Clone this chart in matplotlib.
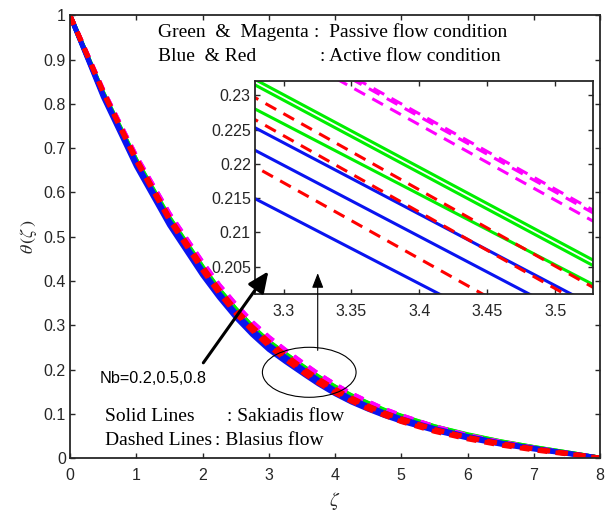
import matplotlib
matplotlib.use('Agg')
import matplotlib.pyplot as plt
from matplotlib.patches import Ellipse, FancyArrowPatch

plt.rcParams['font.family'] = ['Liberation Sans', 'DejaVu Sans']
plt.rcParams['mathtext.fontset'] = 'stix'

# similarity variable
zeta = [0, 0.5, 1, 1.5, 2, 2.25, 2.5, 2.75, 3, 3.25, 3.55, 3.75, 4, 4.25, 4.5, 4.75, 5, 5.5, 6, 6.5, 7, 7.5, 8]

# Sakiadis flow, active condition (blue), Nb = 0.2, 0.5, 0.8
blue_nb02 = [1.000, 0.816, 0.659, 0.526, 0.413, 0.363, 0.318, 0.279, 0.245, 0.2179, 0.1871, 0.1672, 0.145, 0.126, 0.110, 0.0955, 0.083, 0.062, 0.045, 0.031, 0.020, 0.010, 0.000]
blue_nb05 = [1.000, 0.820, 0.665, 0.533, 0.420, 0.370, 0.325, 0.286, 0.252, 0.2250, 0.1938, 0.1736, 0.151, 0.131, 0.114, 0.099, 0.086, 0.065, 0.048, 0.034, 0.022, 0.011, 0.000]
blue_nb08 = [1.000, 0.822, 0.668, 0.536, 0.424, 0.373, 0.328, 0.290, 0.256, 0.2283, 0.1970, 0.1763, 0.153, 0.134, 0.117, 0.102, 0.089, 0.067, 0.049, 0.034, 0.022, 0.011, 0.000]

# Blasius flow, active condition (red)
red_nb02 = [1.000, 0.826, 0.671, 0.537, 0.424, 0.372, 0.327, 0.288, 0.253, 0.2228, 0.1895, 0.1694, 0.147, 0.128, 0.111, 0.096, 0.082, 0.060, 0.043, 0.029, 0.018, 0.009, 0.000]
red_nb05 = [1.000, 0.828, 0.675, 0.542, 0.430, 0.378, 0.333, 0.294, 0.260, 0.2297, 0.1962, 0.1758, 0.153, 0.133, 0.116, 0.101, 0.087, 0.064, 0.046, 0.032, 0.020, 0.010, 0.000]
red_nb08 = [1.000, 0.829, 0.677, 0.544, 0.433, 0.381, 0.336, 0.297, 0.263, 0.2329, 0.1995, 0.1790, 0.156, 0.136, 0.118, 0.102, 0.089, 0.065, 0.047, 0.033, 0.021, 0.011, 0.000]

# Sakiadis flow, passive condition (green)
green_nb02 = [1.000, 0.822, 0.669, 0.538, 0.427, 0.376, 0.332, 0.292, 0.258, 0.2310, 0.2001, 0.1798, 0.157, 0.138, 0.121, 0.105, 0.092, 0.069, 0.051, 0.036, 0.023, 0.012, 0.000]
green_nb05 = [1.000, 0.824, 0.672, 0.542, 0.431, 0.380, 0.336, 0.296, 0.262, 0.2346, 0.2028, 0.1826, 0.160, 0.140, 0.123, 0.107, 0.094, 0.071, 0.052, 0.037, 0.024, 0.012, 0.000]
green_nb08 = [1.000, 0.825, 0.673, 0.543, 0.432, 0.381, 0.337, 0.297, 0.263, 0.2354, 0.2036, 0.1835, 0.161, 0.141, 0.124, 0.108, 0.095, 0.071, 0.053, 0.037, 0.024, 0.012, 0.000]

# Blasius flow, passive condition (magenta)
mag_nb02 = [1.000, 0.830, 0.680, 0.550, 0.440, 0.389, 0.345, 0.305, 0.271, 0.2422, 0.2092, 0.1884, 0.165, 0.144, 0.126, 0.109, 0.095, 0.070, 0.050, 0.035, 0.022, 0.011, 0.000]
mag_nb05 = [1.000, 0.831, 0.681, 0.552, 0.442, 0.391, 0.347, 0.307, 0.273, 0.2434, 0.2104, 0.1895, 0.166, 0.145, 0.127, 0.110, 0.096, 0.071, 0.051, 0.035, 0.022, 0.011, 0.000]
mag_nb08 = [1.000, 0.831, 0.682, 0.552, 0.442, 0.391, 0.347, 0.307, 0.273, 0.2438, 0.2108, 0.1897, 0.166, 0.145, 0.127, 0.110, 0.096, 0.071, 0.051, 0.036, 0.023, 0.011, 0.000]

GREEN = '#00ee00'
MAGENTA = '#ff00ff'
BLUE = '#0a14f0'
RED = '#ff0000'
AXC = '#262626'

curves = [
    (green_nb02, GREEN, '-'), (green_nb05, GREEN, '-'), (green_nb08, GREEN, '-'),
    (mag_nb02, MAGENTA, '--'), (mag_nb05, MAGENTA, '--'), (mag_nb08, MAGENTA, '--'),
    (blue_nb02, BLUE, '-'), (blue_nb05, BLUE, '-'), (blue_nb08, BLUE, '-'),
    (red_nb02, RED, '--'), (red_nb05, RED, '--'), (red_nb08, RED, '--'),
]


def draw_curves(axis, lw, dash):
    for y, c, ls in curves:
        if ls == '--':
            axis.plot(zeta, y, color=c, lw=lw, dashes=dash)
        else:
            axis.plot(zeta, y, color=c, lw=lw)


def style_axes(axis, xpad, ypad):
    axis.tick_params(direction='in', top=True, right=True, length=3.5, width=1.0,
                     colors=AXC, labelsize=11.5, labelcolor=AXC)
    axis.tick_params(axis='x', pad=xpad)
    axis.tick_params(axis='y', pad=ypad)
    for s in axis.spines.values():
        s.set_linewidth(1.3)
        s.set_color(AXC)


fig = plt.figure(figsize=(6.13, 5.13), dpi=100)
ax = fig.add_axes([0.1142, 0.1072, 0.8646, 0.8626])
draw_curves(ax, 3.4, (2.1, 1.7))
ax.set_xlim(0, 8)
ax.set_ylim(0, 1)
ax.set_xticks(range(0, 9))
ax.set_yticks([i / 10 for i in range(11)])
ax.set_yticklabels(['0', '0.1', '0.2', '0.3', '0.4', '0.5', '0.6', '0.7', '0.8', '0.9', '1'])
style_axes(ax, 7, 3)
ax.set_xlabel(r'$\zeta$', fontsize=14, color=AXC, labelpad=5)
ax.set_ylabel(r'$\theta\,(\zeta\,)$', fontsize=13, color=AXC, labelpad=3)

serif = dict(family=['Liberation Serif', 'DejaVu Serif'], fontsize=14, color='black', va='baseline')
ax.text(1.328, 0.952, 'Green  &  Magenta', **serif)
ax.text(3.683, 0.952, ':  Passive flow condition', **serif)
ax.text(1.328, 0.897, 'Blue  & Red', **serif)
ax.text(3.774, 0.897, ': Active flow condition', **serif)
ax.text(0.528, 0.0843, 'Solid Lines', **serif)
ax.text(2.365, 0.0843, ': Sakiadis flow', **serif)
ax.text(0.528, 0.0294, 'Dashed Lines', **serif)
ax.text(2.189, 0.0294, ': Blasius flow', **serif)
ax.text(0.453, 0.169, 'Nb=0.2,0.5,0.8', fontsize=11.7, color='black', va='baseline')

ax.add_patch(Ellipse((3.611, 0.1937), 1.414, 0.113, fill=False, ec='black', lw=0.8, zorder=5))

# zoomed view
axin = fig.add_axes([0.416, 0.4269, 0.5519, 0.4152])
draw_curves(axin, 2.2, (4.0, 2.7))
axin.set_xlim(3.279, 3.528)
axin.set_ylim(0.201, 0.2321)
axin.set_xticks([3.3, 3.35, 3.4, 3.45, 3.5])
axin.set_xticklabels(['3.3', '3.35', '3.4', '3.45', '3.5'])
axin.set_yticks([0.205, 0.21, 0.215, 0.22, 0.225, 0.23])
axin.set_yticklabels(['0.205', '0.21', '0.215', '0.22', '0.225', '0.23'])
style_axes(axin, 7, 3)

# arrows on top of both axes
fig.add_artist(FancyArrowPatch((1.988, 0.210), (3.019, 0.427), transform=ax.transData,
                               arrowstyle='-|>,head_length=0.9,head_width=0.4',
                               mutation_scale=14, lw=2.2, color='black', zorder=10))
fig.add_artist(FancyArrowPatch((3.739, 0.237), (3.739, 0.424), transform=ax.transData,
                               arrowstyle='-|>,head_length=0.9,head_width=0.35',
                               mutation_scale=10, lw=0.8, color='black', zorder=10))

fig.savefig('out.png', dpi=100)
